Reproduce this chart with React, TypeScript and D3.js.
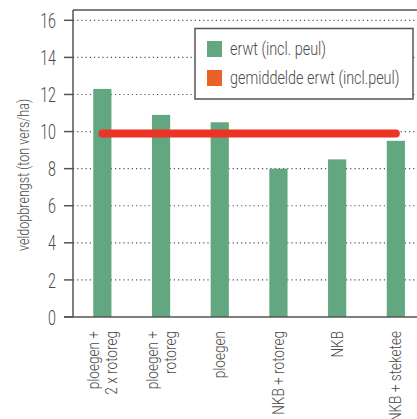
import React from 'react';
import * as d3 from 'd3';

const categories: string[][] = [
  ['ploegen +', '2 x rotoreg'],
  ['ploegen +', 'rotoreg'],
  ['ploegen'],
  ['NKB + rotoreg'],
  ['NKB'],
  ['NKB + steketee'],
];
const yieldValues = [12.3, 10.9, 10.5, 8.0, 8.5, 9.5];
const averageValue = 9.9;
const yTicks = [0, 2, 4, 6, 8, 10, 12, 14, 16];
const legendLabels = ['erwt (incl. peul)', 'gemiddelde erwt (incl.peul)'];

const W = 417;
const H = 419;
const left = 73;
const top = 10;
const bottom = 317;
const font = 'Roboto, "DejaVu Sans", sans-serif';
const textColor = '#4a4a4a';
const axisColor = '#555';
const barColor = '#63a781';
const lineColor = '#ec3326';
const legendOrange = '#ea6228';

const App: React.FC = () => {
  const y = d3.scaleLinear().domain([0, 16]).range([bottom, 20.3]);
  const x = d3
    .scaleBand<number>()
    .domain(d3.range(categories.length))
    .range([left, left + 58.7 * categories.length])
    .paddingInner(0.69)
    .paddingOuter(0.345);
  const cx = (i: number) => (x(i) as number) + x.bandwidth() / 2;

  return (
    <svg
      width={W}
      height={H}
      style={{ position: 'absolute', left: 0, top: 0, background: '#fff' }}
      fontFamily={font}
      fontWeight={300}
    >
      {/* gridlines */}
      {yTicks.filter(t => t > 0).map(t => (
        <line key={t} x1={left} x2={W} y1={y(t)} y2={y(t)} stroke="#555" strokeWidth={1.2} strokeDasharray="1.2 3" />
      ))}
      {/* bars */}
      {yieldValues.map((v, i) => (
        <rect key={i} x={x(i)} y={y(v)} width={x.bandwidth()} height={bottom - y(v)} fill={barColor} />
      ))}
      {/* average line */}
      <line
        x1={cx(0)}
        x2={cx(categories.length - 1)}
        y1={y(averageValue)}
        y2={y(averageValue)}
        stroke={lineColor}
        strokeWidth={8}
        strokeLinecap="round"
      />
      {/* frame */}
      <line x1={left} x2={W} y1={top} y2={top} stroke={axisColor} strokeWidth={1.5} />
      <line x1={left} x2={left} y1={top} y2={bottom} stroke={axisColor} strokeWidth={1.5} />
      <line x1={left - 9} x2={W} y1={bottom} y2={bottom} stroke={axisColor} strokeWidth={1.5} />
      {/* y ticks */}
      {yTicks.map(t => (
        <g key={t} transform={`translate(0,${y(t)})`}>
          <line x1={left - 9} x2={left} stroke={axisColor} strokeWidth={1.5} />
          <text
            transform={`translate(56,0) scale(0.68,1)`}
            textAnchor="end"
            dominantBaseline="central"
            fontSize={21}
            fill={textColor}
          >
            {t}
          </text>
        </g>
      ))}
      {/* y label */}
      <text
        transform={`translate(23,175) rotate(-90) scale(0.74,1)`}
        textAnchor="middle"
        dominantBaseline="central"
        fontSize={17}
        fill={textColor}
      >
        veldopbrengst (ton vers/ha)
      </text>
      {/* x labels */}
      {categories.map((lines, i) => (
        <g key={i} transform={`translate(${cx(i)},331) rotate(-90)`}>
          {lines.map((l, j) => (
            <text
              key={j}
              transform={`translate(0,${(j - (lines.length - 1) / 2) * 18}) scale(0.8,1)`}
              textAnchor="end"
              dominantBaseline="central"
              fontSize={17}
              fill={textColor}
            >
              {l}
            </text>
          ))}
        </g>
      ))}
      {/* legend */}
      <rect x={195} y={28.5} width={218} height={70.5} fill="#fff" stroke={axisColor} strokeWidth={1.5} />
      {legendLabels.map((l, i) => (
        <g key={l} transform={`translate(207,${49 + i * 29})`}>
          <rect x={0} y={-8} width={15} height={16} fill={i === 0 ? barColor : legendOrange} />
          <text transform="translate(23,0) scale(0.8,1)" dominantBaseline="central" fontSize={18} fill={textColor}>
            {l}
          </text>
        </g>
      ))}
    </svg>
  );
};

export default App;
